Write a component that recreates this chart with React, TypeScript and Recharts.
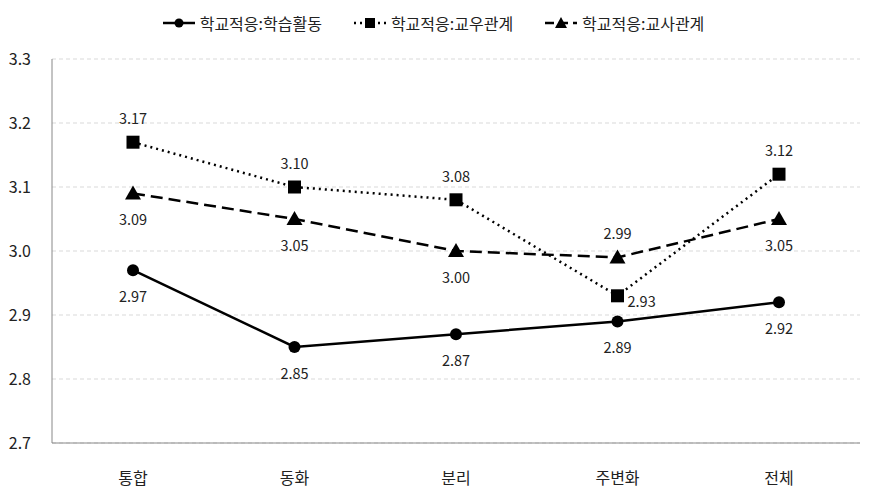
import React from "react"
import { LineChart, Line, XAxis, YAxis, CartesianGrid } from "recharts"

const categories = ["통합", "동화", "분리", "주변화", "전체"]
const learning = [2.97, 2.85, 2.87, 2.89, 2.92]
const peers = [3.17, 3.1, 3.08, 2.93, 3.12]
const teachers = [3.09, 3.05, 3.0, 2.99, 3.05]
const yTicks = [2.7, 2.8, 2.9, 3.0, 3.1, 3.2, 3.3]

// where each value label sits relative to its point
const peersPos = ["top", "top", "top", "right", "top"]
const teachersPos = ["bottom", "bottom", "bottom", "top", "bottom"]
const learningPos = ["bottom", "bottom", "bottom", "bottom", "bottom"]

const data = categories.map((c, i) => ({
  name: c,
  learning: learning[i],
  peers: peers[i],
  teachers: teachers[i],
}))

const FONT = "'Malgun Gothic', 'Noto Sans CJK KR', sans-serif"

const makeLabel = (positions: string[]) => (props: any) => {
  const { x, y, value, index } = props
  const pos = positions[index]
  let tx = x
  let ty = y
  let anchor: any = "middle"
  if (pos === "top") ty = y - 18
  else if (pos === "bottom") ty = y + 32
  else if (pos === "right") {
    tx = x + 10
    ty = y + 11
    anchor = "start"
  }
  return (
    <text x={tx} y={ty} textAnchor={anchor} fontSize={14.5} fill="#222" fontFamily={FONT}>
      {Number(value).toFixed(2)}
    </text>
  )
}

const Square = (props: any) => {
  const { cx, cy } = props
  return <rect x={cx - 6.5} y={cy - 6.5} width={13} height={13} fill="#000" />
}

const Triangle = (props: any) => {
  const { cx, cy } = props
  return <polygon points={`${cx},${cy - 8} ${cx - 8},${cy + 6} ${cx + 8},${cy + 6}`} fill="#000" />
}

const Dot = (props: any) => {
  const { cx, cy } = props
  return <circle cx={cx} cy={cy} r={6} fill="#000" />
}

const YTick = (props: any) => {
  const { y, payload } = props
  return (
    <text x={31} y={y + 6} textAnchor="end" fontSize={16} fill="#222" fontFamily={FONT}>
      {Number(payload.value).toFixed(1)}
    </text>
  )
}

const XTick = (props: any) => {
  const { x, y, payload } = props
  return (
    <text x={x} y={y + 33} textAnchor="middle" fontSize={16} fill="#222" fontFamily={FONT}>
      {payload.value}
    </text>
  )
}

const LegendBox = () => {
  const item = (dash: string, marker: React.ReactNode, label: string) => (
    <div style={{ display: "flex", alignItems: "center", marginRight: 30 }}>
      <svg width={36} height={16}>
        <line x1={2} y1={8} x2={34} y2={8} stroke="#000" strokeWidth={2.5} strokeDasharray={dash} />
        {marker}
      </svg>
      <span style={{ marginLeft: 3, fontSize: 16, color: "#222", fontFamily: FONT }}>{label}</span>
    </div>
  )
  return (
    <div style={{ position: "absolute", top: 11, left: 0, width: 871, display: "flex", justifyContent: "center", paddingLeft: 24, boxSizing: "border-box" }}>
      {item("", <circle cx={18} cy={8} r={4.5} fill="#000" />, "학교적응:학습활동")}
      {item("2 4", <rect x={13} y={3} width={10} height={10} fill="#000" />, "학교적응:교우관계")}
      {item("9 5", <polygon points="18,2 12,13 24,13" fill="#000" />, "학교적응:교사관계")}
    </div>
  )
}

export default function App() {
  return (
    <div style={{ position: "absolute", left: 0, top: 0, width: 871, height: 493, background: "#fff" }}>
      <LineChart width={871} height={493} data={data} margin={{ top: 59, right: 11, bottom: 20, left: 0 }}>
        <CartesianGrid vertical={false} stroke="#d9d9d9" strokeDasharray="4 3" />
        <XAxis
          dataKey="name"
          stroke="#888"
          tickLine={false}
          tick={<XTick />}
          height={30}
          interval={0}
          padding={{ left: 81, right: 81 }}
        />
        <YAxis
          domain={[2.7, 3.3]}
          ticks={yTicks}
          stroke="#888"
          tickLine={false}
          tick={<YTick />}
          width={52}
          interval={0}
        />
        <Line
          dataKey="learning"
          stroke="#000"
          strokeWidth={2.5}
          dot={<Dot />}
          activeDot={false}
          label={makeLabel(learningPos)}
          isAnimationActive={false}
        />
        <Line
          dataKey="peers"
          stroke="#000"
          strokeWidth={2.5}
          strokeDasharray="2 4"
          dot={<Square />}
          activeDot={false}
          label={makeLabel(peersPos)}
          isAnimationActive={false}
        />
        <Line
          dataKey="teachers"
          stroke="#000"
          strokeWidth={2.5}
          strokeDasharray="12 6"
          dot={<Triangle />}
          activeDot={false}
          label={makeLabel(teachersPos)}
          isAnimationActive={false}
        />
      </LineChart>
      <LegendBox />
    </div>
  )
}
